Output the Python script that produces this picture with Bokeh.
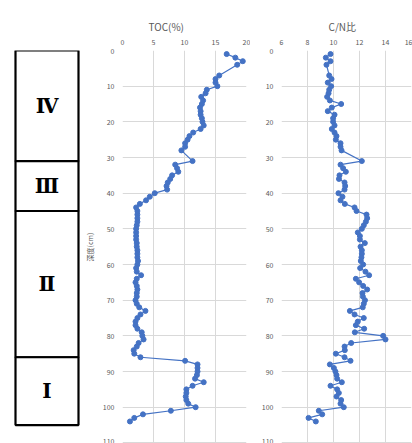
from bokeh.plotting import figure
from bokeh.layouts import row
from bokeh.models import Range1d, FixedTicker, ColumnDataSource
from bokeh.core.properties import value
from bokeh.embed import file_html
from bokeh.resources import INLINE

# ---------------- data ----------------
depth = [1, 2, 3, 4, 7, 8, 9, 10, 11, 12, 13, 14, 15, 16, 17, 18, 19, 20, 21, 22, 23, 24, 25, 26, 27, 28,
         31, 32, 33, 34, 35, 36, 37, 38, 39, 40, 41, 42, 43, 44, 45, 46, 47, 48, 49, 50, 51, 52, 53, 54,
         55, 56, 57, 58, 59, 60, 61, 62, 63, 64, 65, 66, 67, 68, 69, 70, 71, 72, 73, 74, 75, 76, 77, 78,
         79, 80, 81, 82, 83, 84, 85, 86, 87, 88, 89, 90, 91, 92, 93, 94, 95, 96, 97, 98, 99, 100, 101,
         102, 103, 104]
toc = [16.8, 18.2, 19.4, 18.5, 15.6, 15.0, 15.0, 15.3, 13.6, 13.4, 12.7, 13.0, 12.8, 12.5, 12.6, 12.6,
       12.8, 12.9, 13.1, 12.6, 11.4, 10.8, 10.5, 10.1, 10.1, 9.5,
       11.3, 8.5, 8.8, 9.0, 8.0, 7.7, 7.3, 7.1, 7.2, 5.2, 4.4, 3.8, 2.8, 2.2, 2.4, 2.4, 2.4, 2.4, 2.3,
       2.2, 2.2, 2.2, 2.2, 2.3, 2.3, 2.4, 2.4, 2.4, 2.5, 2.4, 2.2, 2.3, 3.0, 2.3, 2.1, 2.3, 2.4, 2.3,
       2.3, 2.1, 2.3, 2.7, 3.7, 2.9, 2.4, 2.1, 2.1, 2.4, 3.1, 3.2, 3.4, 2.6, 2.3, 1.8, 1.9, 2.9, 10.1,
       12.1, 12.1, 12.1, 12.0, 11.7, 13.1, 11.3, 10.3, 10.3, 10.2, 10.3, 10.6, 11.8, 7.8, 3.3, 1.9, 1.2]
cn = [9.77, 9.41, 9.77, 9.46, 9.67, 9.85, 9.56, 9.82, 9.67, 9.62, 9.51, 9.72, 10.59, 9.87, 9.56, 10.08,
      9.97, 9.97, 10.08, 9.87, 10.08, 10.23, 10.18, 10.54, 10.54, 10.62,
      12.18, 10.54, 10.74, 10.95, 10.46, 10.42, 10.85, 10.9, 10.85, 10.38, 10.69, 10.54, 10.87, 11.62,
      11.77, 12.54, 12.59, 12.49, 12.33, 12.18, 11.87, 12.03, 12.03, 12.41, 12.08, 12.18, 12.18, 12.15,
      12.1, 12.28, 12.05, 12.46, 12.74, 11.72, 11.97, 12.28, 12.59, 12.23, 12.26, 12.42, 12.33, 12.25,
      11.26, 11.62, 12.33, 11.87, 11.72, 12.36, 11.64, 13.82, 14.0, 11.36, 10.85, 10.87, 10.18, 10.85,
      11.31, 9.72, 10.03, 10.15, 10.23, 10.28, 10.64, 9.77, 10.28, 10.41, 10.23, 10.59, 10.54, 10.79,
      8.87, 9.13, 8.08, 8.64]

unit_names = ["Ⅳ", "Ⅲ", "Ⅱ", "Ⅰ"]
unit_top = [0, 31, 45, 86]
unit_bottom = [31, 45, 86, 105]

toc_ticks = [0, 5, 10, 15, 20]
cn_ticks = [6, 8, 10, 12, 14, 16]
depth_ticks = [0, 10, 20, 30, 40, 50, 60, 70, 80, 90, 100, 110]

# ---------------- style ----------------
H = 443
TOP = 50
FRAME_H = H - TOP
PX_PER_CM = 3.567
DMAX = FRAME_H / PX_PER_CM
BLUE = "#4472C4"
GRID = "#d9d9d9"
TXT = "#595959"
FONT = "Noto Sans CJK JP"


def style_axes(p, xticks, title, title_offset):
    p.outline_line_color = None
    p.xaxis.ticker = FixedTicker(ticks=xticks)
    p.yaxis.ticker = FixedTicker(ticks=depth_ticks)
    p.xgrid.ticker = FixedTicker(ticks=xticks)
    p.ygrid.ticker = FixedTicker(ticks=depth_ticks)
    for ax in p.xaxis + p.yaxis:
        ax.axis_line_color = None
        ax.major_tick_line_color = None
        ax.minor_tick_line_color = None
        ax.major_tick_out = 0
        ax.major_tick_in = 0
        ax.minor_tick_out = 0
        ax.minor_tick_in = 0
        ax.major_label_text_font_size = "7px"
        ax.major_label_text_color = TXT
        ax.major_label_text_font = FONT
    p.yaxis.major_label_standoff = 8
    p.xaxis.major_label_standoff = 6
    p.xgrid.grid_line_color = GRID
    p.ygrid.grid_line_color = GRID
    p.title.text = title
    p.title.align = "left"
    p.title.offset = title_offset
    p.title.standoff = 4
    p.title.text_font_size = "10px"
    p.title.text_font_style = "normal"
    p.title.text_color = TXT
    p.title.text_font = FONT


# strata column
fa = figure(width=80, height=H, output_backend="svg", toolbar_location=None,
            x_range=Range1d(0, 80), y_range=Range1d(DMAX, 0),
            min_border_left=0, min_border_right=0, min_border_top=TOP, min_border_bottom=0)
fa.axis.visible = False
fa.grid.visible = False
fa.outline_line_color = None
fa.quad(left=15, right=78, top=unit_top, bottom=unit_bottom,
        fill_color="white", line_color="black", line_width=2.2)
mid = [(a + b) / 2 for a, b in zip(unit_top, unit_bottom)]
fa.text(x=46.5, y=mid, text=unit_names, text_align="center", text_baseline="middle",
        text_font=value("DejaVu Serif"), text_font_size="20px", text_font_style="bold",
        text_color="black")

# TOC
fb = figure(width=170, height=H, output_backend="svg", toolbar_location=None,
            x_range=Range1d(0, 20), y_range=Range1d(DMAX, 0), x_axis_location="above",
            min_border_left=42, min_border_right=4, min_border_top=TOP, min_border_bottom=0)
style_axes(fb, toc_ticks, "TOC(%)", 26)
fb.yaxis.axis_label = "深度(cm)"
fb.yaxis.axis_label_text_font_size = "7px"
fb.yaxis.axis_label_text_font_style = "normal"
fb.yaxis.axis_label_text_color = TXT
fb.yaxis.axis_label_text_font = FONT
fb.yaxis.axis_label_standoff = 5
src_b = ColumnDataSource(dict(x=toc, y=depth))
fb.line("x", "y", source=src_b, line_color=BLUE, line_width=1.2)
fb.scatter("x", "y", source=src_b, size=5, fill_color=BLUE, line_color=BLUE)

# C/N
fc = figure(width=162, height=H, output_backend="svg", toolbar_location=None,
            x_range=Range1d(6, 16), y_range=Range1d(DMAX, 0), x_axis_location="above",
            min_border_left=31, min_border_right=1, min_border_top=TOP, min_border_bottom=0)
style_axes(fc, cn_ticks, "C/N比", 47)
src_c = ColumnDataSource(dict(x=cn, y=depth))
fc.line("x", "y", source=src_c, line_color=BLUE, line_width=1.2)
fc.scatter("x", "y", source=src_c, size=5, fill_color=BLUE, line_color=BLUE)

layout = row(fa, fb, fc)
open("out.html", "w").write(file_html(layout, INLINE))
